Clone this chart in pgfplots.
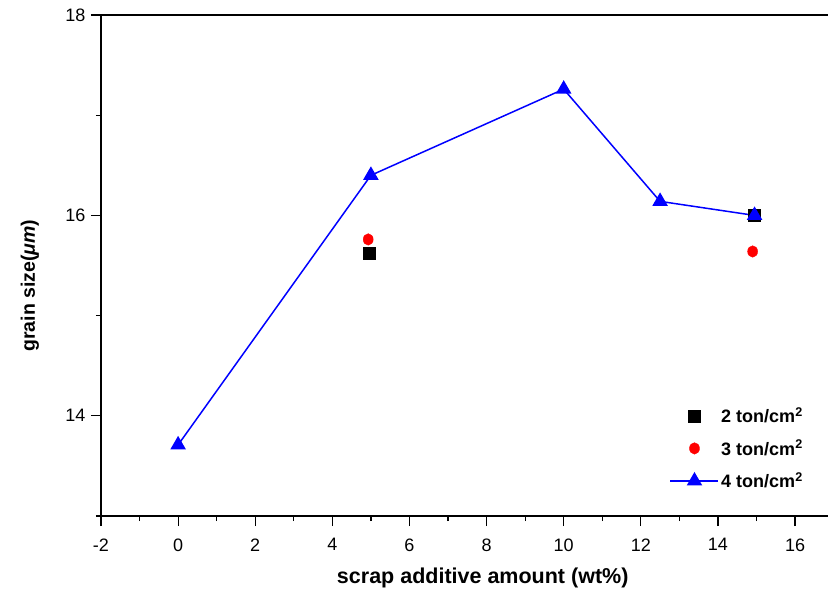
\documentclass[border=0pt]{standalone}
\usepackage{fontspec}
\setmainfont{Liberation Sans}
\usepackage{pgfplots}
\pgfplotsset{compat=1.18}
\definecolor{pblue}{RGB}{0,0,255}
\definecolor{pred}{RGB}{255,0,0}
\begin{document}
\begin{tikzpicture}
\begin{axis}[
  scale only axis,
  width=732.6pt, height=501pt,
  xmin=-2, xmax=17, ymin=13, ymax=18,
  xtick={-2,0,...,16}, minor xtick={-1,1,...,15},
  ytick={14,16,18}, minor ytick={13,15,17},
  xtick pos=bottom, ytick pos=left,
  tick align=outside,
  major tick length=10pt, minor tick length=5pt,
  every tick/.style={black, line width=1.2pt},
  axis line style={line width=1.2pt},
  /pgf/number format/assume math mode=true,
  ticklabel style={font=\fontsize{18}{20}\selectfont},
  xticklabel style={yshift=-9pt},
  yticklabel style={xshift=-2pt},
  xlabel={\textbf{scrap additive amount (wt\%)}},
  ylabel={\textbf{grain size(\textit{μm})}},
  xlabel style={font=\fontsize{21.5}{24}\selectfont, at={(axis cs:7.9,13)}, anchor=center, yshift=-62pt},
  ylabel style={font=\fontsize{19.5}{22}\selectfont, at={(axis cs:-2,15.3)}, anchor=center, yshift=71pt},
  legend style={at={(0.965,0.045)}, anchor=south east, draw=none, fill=none,
    font=\bfseries\fontsize{18}{20}\selectfont, row sep=12pt},
  legend cell align=left,
  legend image code/.code={\draw[mark repeat=2,mark phase=2,#1] plot coordinates {(0pt,0pt) (24pt,0pt) (48pt,0pt)};},
  clip=false,
]
\addplot[only marks, mark=square*, mark size=6pt, black] coordinates {(4.95,15.62) (14.93,16.0)};
\addlegendentry{2 ton/cm$^{\mathbf 2}$}
\addplot[only marks, mark=*, mark size=5pt, pred, mark options={yscale=1.15}] coordinates {(4.93,15.76) (14.9,15.64)};
\addlegendentry{3 ton/cm$^{\mathbf 2}$}
\addplot[pblue, line width=1.5pt, mark=triangle*, mark size=7.5pt] coordinates {(0,13.71) (5,16.40) (10,17.26) (12.5,16.14) (14.95,16.0)};
\addlegendentry{4 ton/cm$^{\mathbf 2}$}
\coordinate (sw) at (rel axis cs:0,0);
\coordinate (nw) at (rel axis cs:0,1);
\end{axis}
\pgfresetboundingbox
\path ([xshift=-101pt,yshift=-81pt]sw) rectangle ([xshift=727pt,yshift=15pt]nw);
\end{tikzpicture}
\end{document}
